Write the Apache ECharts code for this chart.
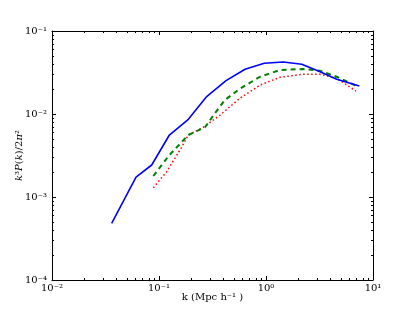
<!DOCTYPE html>
<html><head><meta charset="utf-8">
<script src="https://cdn.jsdelivr.net/npm/echarts@6/dist/echarts.min.js"></script>
<style>html,body{margin:0;padding:0;background:#fff}#c{width:415px;height:312px}</style>
</head><body><div id="c"></div>
<script>
var blueK = [0.0361,0.061,0.0855,0.125,0.188,0.279,0.423,0.637,0.964,1.45,2.16,3.2,4.58,7.45];
var blueV = [4.82e-4,1.73e-3,2.43e-3,5.58e-3,8.63e-3,0.0162,0.0252,0.0346,0.0408,0.0423,0.0397,0.0323,0.0262,0.0217];
var greenK = [0.0885,0.125,0.188,0.269,0.333,0.414,0.562,0.879,1.35,2.23,3.2,4.58,7.05];
var greenV = [1.79e-3,3.2e-3,5.58e-3,6.92e-3,0.0102,0.0148,0.0199,0.0281,0.0339,0.0348,0.0332,0.0281,0.0217];
var redK = [0.0885,0.118,0.157,0.188,0.259,0.372,0.571,0.879,1.35,2.23,3.2,4.58,6.93];
var redV = [1.29e-3,2.02e-3,3.68e-3,5.58e-3,6.92e-3,9.7e-3,0.0155,0.0223,0.0277,0.0301,0.0301,0.0269,0.0189];
var xTicks = [0.01,0.1,1,10];
var yTicks = [1e-4,1e-3,1e-2,1e-1];

function pairs(k,v){return k.map(function(x,i){return [x,v[i]];});}
var sup = {'-':'⁻','0':'⁰','1':'¹','2':'²','3':'³','4':'⁴','5':'⁵','6':'⁶','7':'⁷','8':'⁸','9':'⁹'};
function fmt(v){var e=String(Math.round(Math.log10(v)));return '10'+e.split('').map(function(c){return sup[c];}).join('');}
var FONT = 'DejaVu Serif';
var chart = echarts.init(document.getElementById('c'));
function axisBase(showLabel){
  return {
    type:'log', logBase:10,
    nameMoveOverlap:false,
    axisLine:{show:true,lineStyle:{color:'#000',width:1}},
    axisTick:{show:true,inside:true,length:4,lineStyle:{color:'#000',width:1}},
    axisLabel:{show:showLabel,formatter:fmt,color:'#000',fontFamily:FONT,fontSize:10},
    splitLine:{show:false}
  };
}
var xb = axisBase(true), xt = axisBase(false), yl = axisBase(true), yr = axisBase(false);
[xb,xt].forEach(function(a){a.min=xTicks[0];a.max=xTicks[xTicks.length-1];});
[yl,yr].forEach(function(a){a.min=yTicks[0];a.max=yTicks[yTicks.length-1];});
xb.position='bottom'; xt.position='top';
yl.position='left'; yr.position='right';
xb.axisLabel.margin=3; yl.axisLabel.margin=5;
xb.name='k (Mpc h⁻¹ )'; xb.nameLocation='middle'; xb.nameGap=12;
xb.nameTextStyle={fontFamily:FONT,fontSize:10,color:'#000'};
yl.name='{i|k}³{i|P}({i|k})/2{i|π}²'; yl.nameLocation='middle'; yl.nameGap=28;
yl.nameTextStyle={fontFamily:FONT,fontSize:10,color:'#000',rich:{i:{fontFamily:FONT,fontStyle:'italic',fontSize:10,color:'#000'}}};
chart.setOption({
  animation:false,
  backgroundColor:'#fff',
  grid:{left:52,top:31,width:321,height:249,containLabel:false,outerBoundsMode:'none'},
  xAxis:[xb,xt],
  yAxis:[yl,yr],
  series:[
    {type:'line',data:pairs(blueK,blueV),showSymbol:false,lineStyle:{color:'#0000ff',width:1.6},z:3},
    {type:'line',data:pairs(greenK,greenV),showSymbol:false,lineStyle:{color:'#008000',width:2,type:[5,4]},z:2},
    {type:'line',data:pairs(redK,redV),showSymbol:false,lineStyle:{color:'#ff0000',width:1.5,type:[1.5,2.5]},z:1}
  ]
});
var g = [];
var y0 = chart.convertToPixel({yAxisIndex:0}, yTicks[0]);
var y1 = chart.convertToPixel({yAxisIndex:0}, yTicks[yTicks.length-1]);
var x0 = chart.convertToPixel({xAxisIndex:0}, xTicks[0]);
var x1 = chart.convertToPixel({xAxisIndex:0}, xTicks[xTicks.length-1]);
function ln(a,b,c,d){g.push({type:'line',shape:{x1:a,y1:b,x2:c,y2:d},style:{stroke:'#000',lineWidth:1},z:10});}
for (var i=0;i<xTicks.length-1;i++){for(var m=2;m<10;m++){var px=Math.round(chart.convertToPixel({xAxisIndex:0}, xTicks[i]*m))+0.5;ln(px,y0,px,y0-2);ln(px,y1,px,y1+2);}}
for (var j=0;j<yTicks.length-1;j++){for(var n=2;n<10;n++){var py=Math.round(chart.convertToPixel({yAxisIndex:0}, yTicks[j]*n))+0.5;ln(x0,py,x0+2,py);ln(x1,py,x1-2,py);}}
chart.setOption({graphic:g});
</script></body></html>
